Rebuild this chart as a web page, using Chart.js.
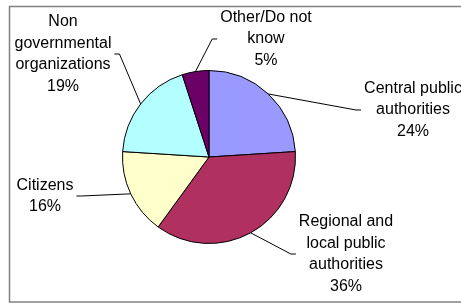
<!DOCTYPE html>
<html>
<head>
<meta charset="utf-8">
<script src="https://cdn.jsdelivr.net/npm/chart.js@4.4.0/dist/chart.umd.min.js"></script>
<style>
  html, body { margin: 0; padding: 0; background: #fff; }
</style>
</head>
<body>
<canvas id="pieChart" width="461" height="305"></canvas>
<script>
// data
const categories = [
  ['Central public', 'authorities'],
  ['Regional and', 'local public', 'authorities'],
  ['Citizens'],
  ['Non', 'governmental', 'organizations'],
  ['Other/Do not', 'know']
];
const shares = [24, 36, 16, 19, 5];
const sliceColors = ['#9999ff', '#b03060', '#ffffcc', '#b3ffff', '#6b0066'];

// where each label block sits, relative to the pie centre
const labelPos = [
  { dx: 204, dy: -47, side: 'left' },
  { dx: 137, dy: 97, side: 'left' },
  { dx: -164, dy: 39, side: 'right' },
  { dx: -146, dy: -103, side: 'right' },
  { dx: 57, dy: -118, side: 'left' }
];

const FONT = '16px "Liberation Sans", Arial, sans-serif';
const LINE_H = 21.5;

// frame round the whole chart
const framePlugin = {
  id: 'frame',
  beforeDraw(chart) {
    const c = chart.ctx;
    c.save();
    c.strokeStyle = '#808080';
    c.lineWidth = 1.5;
    c.strokeRect(9.5, 6.5, 460, 295.5);
    c.restore();
  }
};

// labels with leader lines, like the Excel original
const labelPlugin = {
  id: 'pieLabels',
  afterDatasetsDraw(chart) {
    const c = chart.ctx;
    const arcs = chart.getDatasetMeta(0).data;
    c.save();
    c.font = FONT;
    c.fillStyle = '#000';
    c.textAlign = 'center';
    c.textBaseline = 'middle';
    arcs.forEach((arc, i) => {
      const lines = categories[i].concat([shares[i] + '%']);
      const pos = labelPos[i];
      const cx = arc.x + pos.dx;
      const cy = arc.y + pos.dy;
      const w = Math.max(...lines.map(l => c.measureText(l).width));
      const top = cy - (lines.length - 1) * LINE_H / 2;
      lines.forEach((l, j) => c.fillText(l, cx, top + j * LINE_H));

      // leader line: slice edge -> elbow -> label
      const mid = (arc.startAngle + arc.endAngle) / 2;
      const ex = arc.x + Math.cos(mid) * arc.outerRadius;
      const ey = arc.y + Math.sin(mid) * arc.outerRadius;
      const endX = pos.side === 'left' ? cx - w / 2 - 3 : cx + w / 2 + 3;
      const elbowX = pos.side === 'left' ? endX - 5 : endX + 5;
      c.beginPath();
      c.strokeStyle = '#000';
      c.lineWidth = 1;
      c.moveTo(ex, ey);
      c.lineTo(elbowX, cy);
      c.lineTo(endX, cy);
      c.stroke();
    });
    c.restore();
  }
};

const ctx = document.getElementById('pieChart').getContext('2d');
const chart = new Chart(ctx, {
  type: 'pie',
  data: {
    labels: categories,
    datasets: [{
      data: shares,
      backgroundColor: sliceColors,
      borderColor: '#000',
      borderWidth: 1
    }]
  },
  options: {
    responsive: false,
    animation: false,
    layout: { padding: { left: 122, right: 165, top: 70, bottom: 61 } },
    plugins: {
      legend: { display: false },
      tooltip: { enabled: false }
    }
  },
  plugins: [framePlugin, labelPlugin]
});
</script>
</body>
</html>
